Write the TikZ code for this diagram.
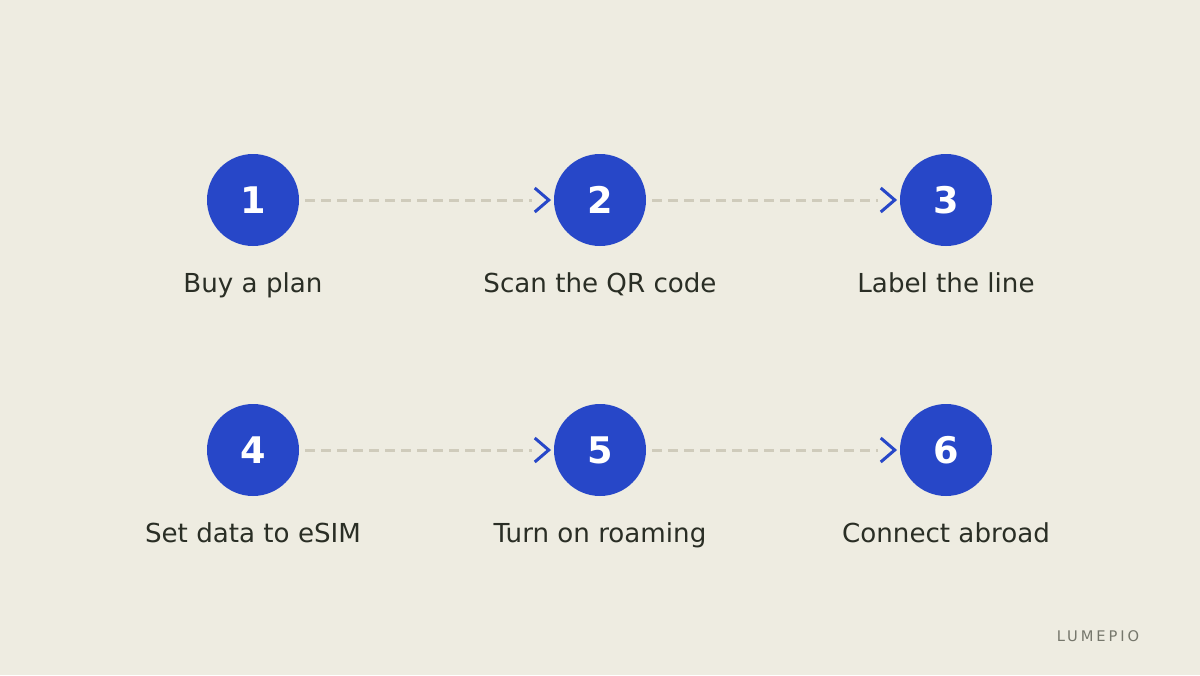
\documentclass[tikz,border=0pt]{standalone}
\usepackage{fontspec}
\setmainfont{DejaVu Sans}
\begin{document}
\begin{tikzpicture}[x=0.75pt,y=-0.75pt,
  stepc/.style={circle,fill=stepblue,minimum size=92*0.75pt,inner sep=0pt,text=white,font=\bfseries\fontsize{27.5}{30}\selectfont},
  lab/.style={text=labtext,font=\fontsize{19.6}{22}\selectfont,anchor=base},
  dashline/.style={draw=dashcol,line width=3*0.75pt,dash pattern=on 7.5pt off 4.5pt},
  chev/.style={draw=stepblue,line width=3*0.75pt}]
\definecolor{bg}{HTML}{EEECE1}
\definecolor{stepblue}{HTML}{2747C8}
\definecolor{dashcol}{HTML}{CFCBBB}
\definecolor{labtext}{HTML}{2A2E25}
\definecolor{brand}{HTML}{76776C}
\fill[bg] (0,0) rectangle (1200,675);
\useasboundingbox (0,0) rectangle (1200,675);
\foreach \n/\x/\y/\t in {1/253/200/Buy a plan,2/600/200/Scan the QR code,3/946/200/Label the line,4/253/450/Set data to eSIM,5/600/450/Turn on roaming,6/946/450/Connect abroad}{
  \node[stepc] (s\n) at (\x,\y) {\raisebox{-1.5pt}{\n}};
  \node[lab] (l\n) at (\x,\y+92) {\t};
}
\foreach \a/\b in {1/2,2/3,4/5,5/6}{
  \coordinate (st\a) at ([xshift=6*0.75pt]s\a.east);
  \coordinate (en\a) at ([xshift=-22*0.75pt]s\b.west);
  \draw[dashline] (st\a) -- (en\a);
  \coordinate (tip\a) at ([xshift=-5*0.75pt]s\b.west);
  \draw[chev] ([xshift=-14*0.75pt,yshift=12*0.75pt]tip\a) -- (tip\a) -- ([xshift=-14*0.75pt,yshift=-12*0.75pt]tip\a);
}
\node[text=brand,font=\fontsize{11}{13}\selectfont,anchor=base] (brand) at (1098,641) {\addfontfeature{LetterSpace=20}LUMEPIO};
\end{tikzpicture}
\end{document}
